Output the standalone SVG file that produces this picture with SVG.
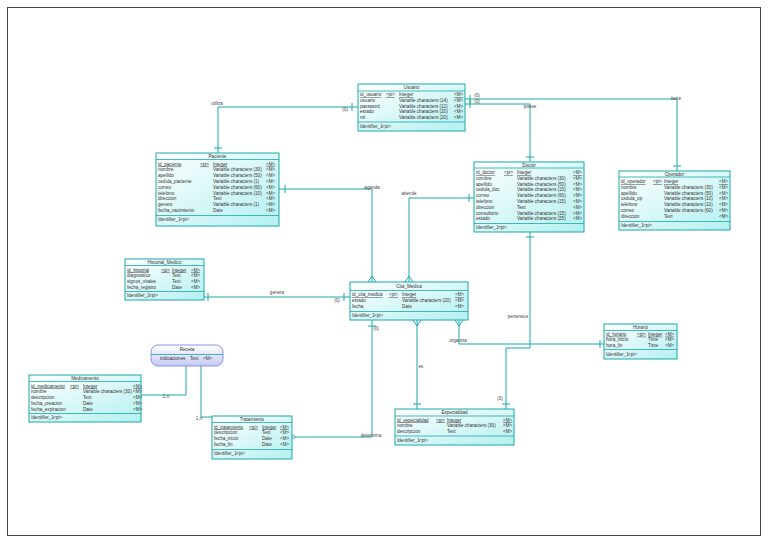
<svg xmlns="http://www.w3.org/2000/svg" width="768" height="543" viewBox="0 0 768 543">
<defs>
<linearGradient id="g" x1="0" y1="0" x2="1" y2="1">
<stop offset="0" stop-color="#ffffff"/>
<stop offset="1" stop-color="#b4f0f0"/>
</linearGradient>
<linearGradient id="gv" x1="0" y1="0" x2="0" y2="1">
<stop offset="0" stop-color="#ffffff"/>
<stop offset="1" stop-color="#c4c8f4"/>
</linearGradient>
<style>
.box{fill:url(#g);stroke:#1aa8a8;stroke-width:1}
.sep{stroke:#1aa8a8;stroke-width:0.8}
.t{font-family:"Liberation Sans",Arial,sans-serif;font-size:4.6px;fill:#333}
.tt{font-family:"Liberation Sans",Arial,sans-serif;font-size:4.6px;fill:#333;text-anchor:middle}
.u{text-decoration:underline}
.c{stroke:#1aa8a8;stroke-width:1;fill:none}
.lb{font-family:"Liberation Sans",Arial,sans-serif;font-size:4.6px;fill:#444;text-anchor:middle}
</style>
</defs>
<rect x="0" y="0" width="768" height="543" fill="#ffffff"/>
<rect x="7.5" y="7.5" width="753" height="528" fill="none" stroke="#444" stroke-width="1"/>

<g id="connectors">
<!-- utiliza -->
<path class="c" d="M358,107 H218 V153"/>
<path class="c" d="M352,103 V111 M214,148 H222"/>
<text class="lb" x="217" y="105">utiliza</text>
<text class="lb" x="345" y="111">(0)</text>
<!-- tiene -->
<path class="c" d="M465,99 H677 V171"/>
<path class="c" d="M470,95 V103 M673,166 H681"/>
<text class="lb" x="676" y="100">tiene</text>
<text class="lb" x="477" y="97">(0)</text>
<!-- posee -->
<path class="c" d="M465,104 H530 V162"/>
<path class="c" d="M470,100 V108 M526,157 H534"/>
<text class="lb" x="530" y="108">posee</text>
<text class="lb" x="477" y="103">(0)</text>
<!-- agenda -->
<path class="c" d="M279,189 H372 V282"/>
<path class="c" d="M285,185 V193 M372,276 L368,282 M372,276 L376,282"/>
<text class="lb" x="372" y="189">agenda</text>
<!-- atiende -->
<path class="c" d="M474,198 H409 V282"/>
<path class="c" d="M469,194 V202 M409,276 L405,282 M409,276 L413,282"/>
<text class="lb" x="409" y="195">atiende</text>
<!-- genera -->
<path class="c" d="M204,297 H350"/>
<path class="c" d="M208,293 V301 M344,293 V301"/>
<text class="lb" x="277" y="294">genera</text>
<text class="lb" x="337" y="302">(0)</text>
<!-- determina -->
<path class="c" d="M372,320 V437 H294"/>
<path class="c" d="M368,326 H376"/>
<circle cx="293.5" cy="437" r="1.5" fill="#fff" stroke="#1aa8a8" stroke-width="0.8"/>
<text class="lb" x="376" y="330">(0)</text>
<text class="lb" x="371" y="437">determina</text>
<!-- es -->
<path class="c" d="M417,320 V409"/>
<path class="c" d="M417,326 L413,320 M417,326 L421,320 M413,404 H421"/>
<text class="lb" x="421" y="368">es</text>
<!-- organiza -->
<path class="c" d="M459,320 V344 H604"/>
<path class="c" d="M459,326 L455,320 M459,326 L463,320 M600,340 V348"/>
<text class="lb" x="458" y="342">organiza</text>
<!-- pertenece -->
<path class="c" d="M530,232 V348 H506 V409"/>
<path class="c" d="M526,237 H534 M502,404 H510"/>
<text class="lb" x="518" y="318">pertenece</text>
<text class="lb" x="500" y="400">(0)</text>
<!-- receta-medicamento -->
<path class="c" d="M186,366 V395 H140"/>
<text class="lb" x="166" y="398">1,n</text>
<!-- receta-tratamiento -->
<path class="c" d="M201,366 V417 H212"/>
<text class="lb" x="199" y="420">1,n</text>
</g>

<g id="Usuario">
<rect class="box" x="358" y="84" width="107" height="47"/>
<line class="sep" x1="358" y1="91" x2="465" y2="91"/>
<line class="sep" x1="358" y1="122" x2="465" y2="122"/>
<text class="tt" x="411.5" y="89.2">Usuario</text>
<g class="t">
<text x="360" y="96"><tspan class="u">id_usuario</tspan></text><text class="u" x="386" y="96">&lt;pi&gt;</text><text class="u" x="399" y="96">Integer</text><text class="u" x="454" y="96">&lt;M&gt;</text>
<text x="360" y="101.8">usuario</text><text x="399" y="101.8">Variable characters (14)</text><text x="454" y="101.8">&lt;M&gt;</text>
<text x="360" y="107.6">password</text><text x="399" y="107.6">Variable characters (12)</text><text x="454" y="107.6">&lt;M&gt;</text>
<text x="360" y="113.4">estado</text><text x="399" y="113.4">Variable characters (20)</text><text x="454" y="113.4">&lt;M&gt;</text>
<text x="360" y="119.2">rol</text><text x="399" y="119.2">Variable characters (20)</text><text x="454" y="119.2">&lt;M&gt;</text>
<text x="360" y="127.5">Identifier_1</text><text x="382" y="127.5">&lt;pi&gt;</text>
</g>
</g>

<g id="Paciente">
<rect class="box" x="156" y="153" width="123" height="73"/>
<line class="sep" x1="156" y1="159.5" x2="279" y2="159.5"/>
<line class="sep" x1="156" y1="215.5" x2="279" y2="215.5"/>
<text class="tt" x="217.5" y="158">Paciente</text>
<g class="t">
<text class="u" x="158" y="165.6">id_paciente</text><text class="u" x="200" y="165.6">&lt;pi&gt;</text><text class="u" x="213" y="165.6">Integer</text><text class="u" x="266" y="165.6">&lt;M&gt;</text>
<text x="158" y="171.4">nombre</text><text x="213" y="171.4">Variable characters (30)</text><text x="266" y="171.4">&lt;M&gt;</text>
<text x="158" y="177.2">apellido</text><text x="213" y="177.2">Variable characters (50)</text><text x="266" y="177.2">&lt;M&gt;</text>
<text x="158" y="183">cedula_paciente</text><text x="213" y="183">Variable characters (1)</text><text x="266" y="183">&lt;M&gt;</text>
<text x="158" y="188.8">correo</text><text x="213" y="188.8">Variable characters (60)</text><text x="266" y="188.8">&lt;M&gt;</text>
<text x="158" y="194.6">telefono</text><text x="213" y="194.6">Variable characters (10)</text><text x="266" y="194.6">&lt;M&gt;</text>
<text x="158" y="200.4">direccion</text><text x="213" y="200.4">Text</text><text x="266" y="200.4">&lt;M&gt;</text>
<text x="158" y="206.2">genero</text><text x="213" y="206.2">Variable characters (1)</text><text x="266" y="206.2">&lt;M&gt;</text>
<text x="158" y="212">fecha_nacimiento</text><text x="213" y="212">Date</text><text x="266" y="212">&lt;M&gt;</text>
<text x="158" y="221">Identifier_1</text><text x="180" y="221">&lt;pi&gt;</text>
</g>
</g>

<g id="Doctor">
<rect class="box" x="474" y="162" width="110" height="70"/>
<line class="sep" x1="474" y1="168" x2="584" y2="168"/>
<line class="sep" x1="474" y1="223.5" x2="584" y2="223.5"/>
<text class="tt" x="529" y="166.5">Doctor</text>
<g class="t">
<text class="u" x="476" y="174">id_doctor</text><text class="u" x="504" y="174">&lt;pi&gt;</text><text class="u" x="517" y="174">Integer</text><text class="u" x="573" y="174">&lt;M&gt;</text>
<text x="476" y="179.8">nombre</text><text x="517" y="179.8">Variable characters (30)</text><text x="573" y="179.8">&lt;M&gt;</text>
<text x="476" y="185.6">apellido</text><text x="517" y="185.6">Variable characters (50)</text><text x="573" y="185.6">&lt;M&gt;</text>
<text x="476" y="191.4">cedula_doc</text><text x="517" y="191.4">Variable characters (15)</text><text x="573" y="191.4">&lt;M&gt;</text>
<text x="476" y="197.2">correo</text><text x="517" y="197.2">Variable characters (60)</text><text x="573" y="197.2">&lt;M&gt;</text>
<text x="476" y="203">telefono</text><text x="517" y="203">Variable characters (15)</text><text x="573" y="203">&lt;M&gt;</text>
<text x="476" y="208.8">direccion</text><text x="517" y="208.8">Text</text><text x="573" y="208.8">&lt;M&gt;</text>
<text x="476" y="214.6">consultorio</text><text x="517" y="214.6">Variable characters (15)</text><text x="573" y="214.6">&lt;M&gt;</text>
<text x="476" y="220.4">estado</text><text x="517" y="220.4">Variable characters (25)</text><text x="573" y="220.4">&lt;M&gt;</text>
<text x="476" y="229">Identifier_1</text><text x="498" y="229">&lt;pi&gt;</text>
</g>
</g>

<g id="Operador">
<rect class="box" x="619" y="171" width="111" height="59"/>
<line class="sep" x1="619" y1="177" x2="730" y2="177"/>
<line class="sep" x1="619" y1="221.5" x2="730" y2="221.5"/>
<text class="tt" x="674.5" y="175.5">Operador</text>
<g class="t">
<text class="u" x="621" y="183">id_operador</text><text class="u" x="653" y="183">&lt;pi&gt;</text><text class="u" x="664" y="183">Integer</text><text class="u" x="719" y="183">&lt;M&gt;</text>
<text x="621" y="188.8">nombre</text><text x="664" y="188.8">Variable characters (30)</text><text x="719" y="188.8">&lt;M&gt;</text>
<text x="621" y="194.6">apellido</text><text x="664" y="194.6">Variable characters (50)</text><text x="719" y="194.6">&lt;M&gt;</text>
<text x="621" y="200.4">cedula_op</text><text x="664" y="200.4">Variable characters (10)</text><text x="719" y="200.4">&lt;M&gt;</text>
<text x="621" y="206.2">telefono</text><text x="664" y="206.2">Variable characters (10)</text><text x="719" y="206.2">&lt;M&gt;</text>
<text x="621" y="212">correo</text><text x="664" y="212">Variable characters (60)</text><text x="719" y="212">&lt;M&gt;</text>
<text x="621" y="217.8">direccion</text><text x="664" y="217.8">Text</text><text x="719" y="217.8">&lt;M&gt;</text>
<text x="621" y="226.6">Identifier_1</text><text x="643" y="226.6">&lt;pi&gt;</text>
</g>
</g>

<g id="Historial_Medico">
<rect class="box" x="125" y="259" width="79" height="41"/>
<line class="sep" x1="125" y1="265.5" x2="204" y2="265.5"/>
<line class="sep" x1="125" y1="291.5" x2="204" y2="291.5"/>
<text class="tt" x="164.5" y="263.8">Historial_Medico</text>
<g class="t">
<text class="u" x="127" y="271.5">id_historial</text><text class="u" x="161" y="271.5">&lt;pi&gt;</text><text class="u" x="172" y="271.5">Integer</text><text class="u" x="191" y="271.5">&lt;M&gt;</text>
<text x="127" y="277.3">diagnostico</text><text x="172" y="277.3">Text</text><text x="191" y="277.3">&lt;M&gt;</text>
<text x="127" y="283.1">signos_vitales</text><text x="172" y="283.1">Text</text><text x="191" y="283.1">&lt;M&gt;</text>
<text x="127" y="288.9">fecha_registro</text><text x="172" y="288.9">Date</text><text x="191" y="288.9">&lt;M&gt;</text>
<text x="127" y="297.3">Identifier_1</text><text x="149" y="297.3">&lt;pi&gt;</text>
</g>
</g>

<g id="Cita_Medica">
<rect class="box" x="350" y="282" width="118" height="38"/>
<line class="sep" x1="350" y1="290.5" x2="468" y2="290.5"/>
<line class="sep" x1="350" y1="311.5" x2="468" y2="311.5"/>
<text class="tt" x="409" y="288">Cita_Medica</text>
<g class="t">
<text class="u" x="352" y="296">id_cita_medica</text><text class="u" x="389" y="296">&lt;pi&gt;</text><text class="u" x="402" y="296">Integer</text><text class="u" x="455" y="296">&lt;M&gt;</text>
<text x="352" y="301.8">estado</text><text x="402" y="301.8">Variable characters (20)</text><text x="455" y="301.8">&lt;M&gt;</text>
<text x="352" y="307.6">fecha</text><text x="402" y="307.6">Date</text><text x="455" y="307.6">&lt;M&gt;</text>
<text x="352" y="317">Identifier_1</text><text x="374" y="317">&lt;pi&gt;</text>
</g>
</g>

<g id="Horario">
<rect class="box" x="604" y="324" width="73" height="35"/>
<line class="sep" x1="604" y1="330.5" x2="677" y2="330.5"/>
<line class="sep" x1="604" y1="349.5" x2="677" y2="349.5"/>
<text class="tt" x="640.5" y="328.8">Horario</text>
<g class="t">
<text class="u" x="606" y="335.7">id_horario</text><text class="u" x="637" y="335.7">&lt;pi&gt;</text><text class="u" x="648" y="335.7">Integer</text><text class="u" x="665" y="335.7">&lt;M&gt;</text>
<text x="606" y="341.2">hora_inicio</text><text x="648" y="341.2">Time</text><text x="665" y="341.2">&lt;M&gt;</text>
<text x="606" y="346.7">hora_fin</text><text x="648" y="346.7">Time</text><text x="665" y="346.7">&lt;M&gt;</text>
<text x="606" y="355.5">Identifier_1</text><text x="628" y="355.5">&lt;pi&gt;</text>
</g>
</g>

<g id="Receta">
<rect x="151" y="345" width="72" height="21" rx="7" ry="7" fill="url(#gv)" stroke="#8a94e0" stroke-width="1"/>
<line class="sep" x1="151" y1="354.5" x2="223" y2="354.5"/>
<text class="tt" x="187" y="351">Receta</text>
<g class="t">
<text x="160" y="359.5">indicaciones</text><text x="190" y="359.5">Text</text><text x="203" y="359.5">&lt;M&gt;</text>
</g>
</g>

<g id="Medicamento">
<rect class="box" x="29" y="375" width="112" height="47"/>
<line class="sep" x1="29" y1="381.5" x2="141" y2="381.5"/>
<line class="sep" x1="29" y1="413.5" x2="141" y2="413.5"/>
<text class="tt" x="85" y="380">Medicamento</text>
<g class="t">
<text class="u" x="31" y="387.5">id_medicamento</text><text class="u" x="70" y="387.5">&lt;pi&gt;</text><text class="u" x="83" y="387.5">Integer</text><text class="u" x="133" y="387.5">&lt;M&gt;</text>
<text x="31" y="393.3">nombre</text><text x="83" y="393.3">Variable characters (30)</text><text x="133" y="393.3">&lt;M&gt;</text>
<text x="31" y="399.1">descripcion</text><text x="83" y="399.1">Text</text><text x="133" y="399.1">&lt;M&gt;</text>
<text x="31" y="404.9">fecha_creacion</text><text x="83" y="404.9">Date</text><text x="133" y="404.9">&lt;M&gt;</text>
<text x="31" y="410.7">fecha_expiracion</text><text x="83" y="410.7">Date</text><text x="133" y="410.7">&lt;M&gt;</text>
<text x="31" y="419.3">Identifier_1</text><text x="53" y="419.3">&lt;pi&gt;</text>
</g>
</g>

<g id="Tratamiento">
<rect class="box" x="212" y="416" width="80" height="43"/>
<line class="sep" x1="212" y1="422.5" x2="292" y2="422.5"/>
<line class="sep" x1="212" y1="449.5" x2="292" y2="449.5"/>
<text class="tt" x="252" y="420.8">Tratamiento</text>
<g class="t">
<text class="u" x="214" y="428.5">id_tratamiento</text><text class="u" x="249" y="428.5">&lt;pi&gt;</text><text class="u" x="262" y="428.5">Integer</text><text class="u" x="280" y="428.5">&lt;M&gt;</text>
<text x="214" y="434.3">descripcion</text><text x="262" y="434.3">Text</text><text x="280" y="434.3">&lt;M&gt;</text>
<text x="214" y="440.1">fecha_inicio</text><text x="262" y="440.1">Date</text><text x="280" y="440.1">&lt;M&gt;</text>
<text x="214" y="445.9">fecha_fin</text><text x="262" y="445.9">Date</text><text x="280" y="445.9">&lt;M&gt;</text>
<text x="214" y="455.3">Identifier_1</text><text x="236" y="455.3">&lt;pi&gt;</text>
</g>
</g>

<g id="Especialidad">
<rect class="box" x="395" y="409" width="119" height="36"/>
<line class="sep" x1="395" y1="416" x2="514" y2="416"/>
<line class="sep" x1="395" y1="436" x2="514" y2="436"/>
<text class="tt" x="454.5" y="414">Especialidad</text>
<g class="t">
<text class="u" x="397" y="421.5">id_especialidad</text><text class="u" x="436" y="421.5">&lt;pi&gt;</text><text class="u" x="447" y="421.5">Integer</text><text class="u" x="503" y="421.5">&lt;M&gt;</text>
<text x="397" y="427.3">nombre</text><text x="447" y="427.3">Variable characters (30)</text><text x="503" y="427.3">&lt;M&gt;</text>
<text x="397" y="433.1">descripcion</text><text x="447" y="433.1">Text</text><text x="503" y="433.1">&lt;M&gt;</text>
<text x="397" y="442">Identifier_1</text><text x="419" y="442">&lt;pi&gt;</text>
</g>
</g>
</svg>
